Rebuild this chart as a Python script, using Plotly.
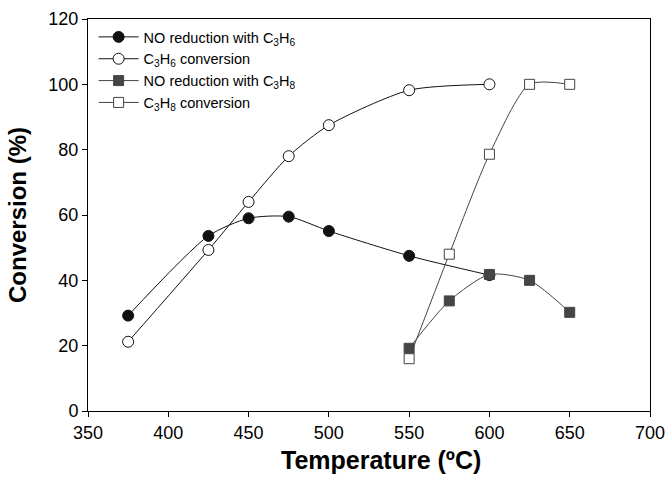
import plotly.graph_objects as go

temp_c3h6 = [375, 425, 450, 475, 500, 550, 600]
no_red_c3h6 = [29.2, 53.6, 59.0, 59.5, 55.1, 47.5, 41.6]
conv_c3h6 = [21.2, 49.3, 64.0, 78.0, 87.5, 98.2, 100.0]

temp_c3h8 = [550, 575, 600, 625, 650]
no_red_c3h8 = [19.2, 33.7, 41.8, 40.0, 30.2]
conv_c3h8 = [16.0, 48.0, 78.6, 100.0, 100.0]

names = ["NO reduction with C<sub>3</sub>H<sub>6</sub>",
         "C<sub>3</sub>H<sub>6</sub> conversion",
         "NO reduction with C<sub>3</sub>H<sub>8</sub>",
         "C<sub>3</sub>H<sub>8</sub> conversion"]
x_title = "<b>Temperature (ºC)</b>"
y_title = "<b>Conversion (%)</b>"

fig = go.Figure()
fig.add_trace(go.Scatter(x=temp_c3h6, y=no_red_c3h6, name=names[0], mode="lines+markers",
                         line=dict(color="#111111", width=1, shape="spline", smoothing=0.7),
                         marker=dict(symbol="circle", size=11, color="#111111",
                                     line=dict(color="#111111", width=1))))
fig.add_trace(go.Scatter(x=temp_c3h6, y=conv_c3h6, name=names[1], mode="lines+markers",
                         line=dict(color="#111111", width=1, shape="spline", smoothing=0.7),
                         marker=dict(symbol="circle", size=11, color="white",
                                     line=dict(color="#111111", width=1))))
fig.add_trace(go.Scatter(x=temp_c3h8, y=no_red_c3h8, name=names[2], mode="lines+markers",
                         line=dict(color="#444444", width=1, shape="spline", smoothing=0.7),
                         marker=dict(symbol="square", size=10, color="#454545",
                                     line=dict(color="#454545", width=1))))
fig.add_trace(go.Scatter(x=temp_c3h8, y=conv_c3h8, name=names[3], mode="lines+markers",
                         line=dict(color="#444444", width=1, shape="spline", smoothing=0.7),
                         marker=dict(symbol="square", size=10, color="white",
                                     line=dict(color="#444444", width=1))))

axis_common = dict(showline=True, linecolor="black", linewidth=1, mirror=True,
                   ticks="outside", ticklen=5, tickcolor="black", showgrid=False,
                   zeroline=False, automargin=False,
                   tickfont=dict(family="Liberation Sans, Arial", size=18, color="black"))

fig.update_layout(
    width=666, height=487,
    margin=dict(l=88, r=16, t=19, b=76),
    paper_bgcolor="white", plot_bgcolor="white",
    font=dict(family="Liberation Sans, Arial", color="black"),
    xaxis=dict(range=[350, 700], dtick=50, **axis_common),
    yaxis=dict(range=[0, 120], dtick=20,
               title=dict(text=y_title, font=dict(size=24), standoff=14),
               **axis_common),
    legend=dict(x=0.01, y=0.995, xanchor="left", yanchor="top",
                font=dict(size=14.5, color="black"), bgcolor="rgba(0,0,0,0)",
                tracegroupgap=0, itemwidth=40),
    showlegend=True,
    annotations=[dict(text=x_title, xref="paper", yref="paper", x=0.521, y=0,
                      xanchor="center", yanchor="middle", yshift=-49, showarrow=False,
                      font=dict(size=25, color="black"))],
)

fig.write_html("out.html")
